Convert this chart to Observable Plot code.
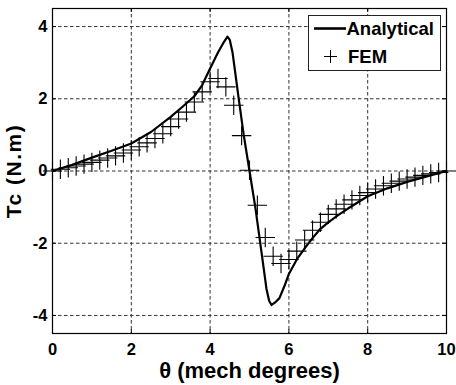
<!DOCTYPE html>
<html><head><meta charset="utf-8">
<script src="https://cdn.jsdelivr.net/npm/d3@7"></script>
<script src="https://cdn.jsdelivr.net/npm/@observablehq/plot@0.6"></script>
<style>
body{margin:0;background:#fff;}
#wrap{position:relative;width:456px;height:385px;font-family:"Liberation Sans",Arial,sans-serif;font-weight:bold;}
#wrap svg{display:block;}
#wrap svg text{font-weight:bold;}
g[aria-label="x-axis tick label"], g[aria-label="y-axis tick label"]{font-size:16.5px;}
g[aria-label="x-axis label"]{font-size:22px;}
g[aria-label="y-axis label"]{font-size:21px;letter-spacing:1.5px;}
#legend{position:absolute;left:308px;top:15px;}
</style>
</head><body>
<div id="wrap"></div>
<script>
// Analytical curve
const anaX = [0,0.5,1.0,1.5,2.0,2.5,3.0,3.3,3.6,3.8,4.0,4.2,4.35,4.44,4.5,4.57,4.72,4.85,5.0,5.15,5.28,5.43,5.5,5.56,5.65,5.76,5.9,6.0,6.2,6.4,6.6,6.8,7.0,7.25,7.5,8.0,8.5,9.0,9.5,10];
const anaY = [0,0.17,0.37,0.56,0.76,1.08,1.5,1.78,2.07,2.38,2.84,3.28,3.57,3.72,3.63,3.28,2.05,1.02,0,-1.02,-2.05,-3.26,-3.6,-3.71,-3.64,-3.52,-3.15,-2.85,-2.45,-2.14,-1.86,-1.6,-1.42,-1.22,-1.04,-0.7,-0.48,-0.3,-0.15,0];
// FEM points
const femX = [0,0.2,0.4,0.6,0.8,1.0,1.2,1.4,1.6,1.8,2.0,2.2,2.4,2.6,2.8,3.0,3.2,3.4,3.6,3.8,4.0,4.2,4.4,4.6,4.8,5.0,5.2,5.4,5.6,5.8,6.0,6.2,6.4,6.6,6.8,7.0,7.2,7.4,7.6,7.8,8.0,8.2,8.4,8.6,8.8,9.0,9.2,9.4,9.6,9.8,10];
const femY = [0,0.05,0.09,0.14,0.19,0.24,0.3,0.36,0.42,0.5,0.58,0.67,0.78,0.9,1.03,1.23,1.44,1.63,1.91,2.19,2.47,2.56,2.33,1.82,0.98,0.02,-0.95,-1.84,-2.36,-2.56,-2.45,-2.22,-1.91,-1.64,-1.42,-1.2,-1.05,-0.92,-0.8,-0.68,-0.6,-0.5,-0.41,-0.34,-0.28,-0.22,-0.17,-0.12,-0.08,-0.04,0];
// Axes
const xTicks = [0,2,4,6,8,10];
const yTicks = [-4,-2,0,2,4];
const xLabel = "θ (mech degrees)";
const yLabel = "Tc (N.m)";
const seriesNames = ["Analytical","FEM"];

const ana = anaX.map((x,i)=>({x, y: anaY[i]}));
const fem = femX.map((x,i)=>({x, y: femY[i]}));

const W = 456, H = 385, mL = 52, mR = 10, mT = 8, mB = 52;
const pw = W - mL - mR, ph = H - mT - mB;
const gridStyle = {stroke:"#333", strokeOpacity:1, strokeWidth:1, strokeDasharray:"3.5,2.5"};

const chart = Plot.plot({
  width: W, height: H,
  marginLeft: mL, marginRight: mR, marginTop: mT, marginBottom: mB,
  style: {fontFamily:'"Liberation Sans",Arial,sans-serif', fontWeight:"bold", fontSize:"16px", color:"black", background:"white"},
  x: {domain:[0,10]},
  y: {domain:[-4.5,4.5]},
  marks: [
    Plot.gridX(xTicks, gridStyle),
    Plot.gridY(yTicks, gridStyle),
    Plot.tickX(xTicks, {x:d=>d, stroke:"black", insetTop: ph-4}),
    Plot.tickX(xTicks, {x:d=>d, stroke:"black", insetBottom: ph-4}),
    Plot.tickY(yTicks, {y:d=>d, stroke:"black", insetRight: pw-4}),
    Plot.tickY(yTicks, {y:d=>d, stroke:"black", insetLeft: pw-4}),
    Plot.frame({stroke:"black", strokeWidth:1.2}),
    Plot.axisX(xTicks, {tickSize:0, tickPadding:10, tickFormat:d=>String(d), label:xLabel, labelAnchor:"center", labelArrow:"none", labelOffset:44}),
    Plot.axisY(yTicks, {tickSize:0, tickPadding:5, tickFormat:d=>String(d), label:yLabel, labelAnchor:"center", labelArrow:"none", labelOffset:46}),
    Plot.line(ana, {x:"x", y:"y", stroke:"black", strokeWidth:2.2}),
    Plot.dot(fem, {x:"x", y:"y", symbol:"plus", r:6.3, stroke:"black", strokeWidth:1.1})
  ]
});
const wrap = document.getElementById("wrap");
wrap.appendChild(chart);

// Legend
const lg = d3.select(wrap).append("svg").attr("id","legend").attr("width",133).attr("height",56);
lg.append("rect").attr("x",0.5).attr("y",0.5).attr("width",132).attr("height",55).attr("fill","white").attr("stroke","#222").attr("stroke-width",1);
lg.append("line").attr("x1",6).attr("x2",38).attr("y1",13.5).attr("y2",13.5).attr("stroke","black").attr("stroke-width",2.6);
lg.append("text").attr("x",38.5).attr("y",20).attr("font-size",18.5).attr("font-weight","bold").attr("font-family",'"Liberation Sans",Arial,sans-serif').text(seriesNames[0]);
lg.append("path").attr("d","M16,41.5H29M22.5,35V48").attr("stroke","black").attr("stroke-width",1);
lg.append("text").attr("x",40).attr("y",47.5).attr("font-size",18.5).attr("font-weight","bold").attr("font-family",'"Liberation Sans",Arial,sans-serif').text(seriesNames[1]);
</script>
</body></html>
